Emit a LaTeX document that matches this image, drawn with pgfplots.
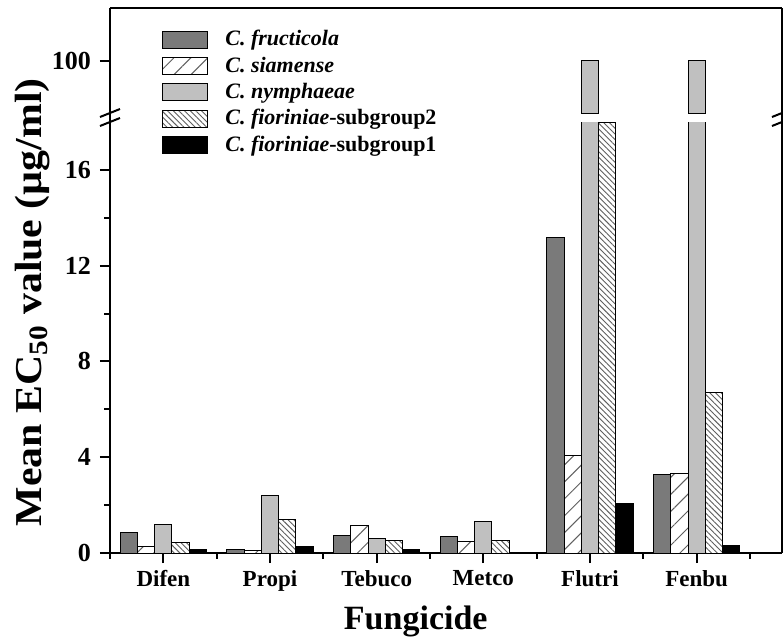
\documentclass[border=0pt]{standalone}
\usepackage{fontspec}
\setmainfont{Liberation Serif}
\usepackage{pgfplots}
\usepackage{pgfplotstable}
\pgfplotsset{compat=1.18}
\usetikzlibrary{patterns.meta}

\definecolor{cfruc}{RGB}{122,122,122}
\definecolor{cnym}{RGB}{192,192,192}
\definecolor{hatch}{RGB}{95,95,95}

\pgfplotstableread{
x fruc siam nym fiortwo fiorone
0 0.85 0.26 1.21 0.45 0.13
1 0.15 0.12 2.42 1.42 0.26
2 0.72 1.13 0.60 0.54 0.13
3 0.71 0.49 1.31 0.53 0
4 13.16 4.08 100 18 2.05
5 3.26 3.33 100 6.70 0.31
}\datatable

\pgfplotsset{
  common/.style={
    width=336pt, scale only axis,
    xmin=-0.5, xmax=5.8,
    axis y line*=box, ytick pos=left,
    axis line style={line width=1pt, black},
    tick align=outside, major tick length=5pt, minor tick length=2.8pt,
    every tick/.style={line width=1pt, black},
    /pgf/number format/assume math mode=true,
    yticklabel style={font=\bfseries\fontsize{13}{14}\selectfont, xshift=-1pt},
  },
  bb/.style={ybar, bar width=0.162, draw=black, line width=0.5pt},
  sfruc/.style={bb, bar shift=-0.324, fill=cfruc},
  ssiam/.style={bb, bar shift=-0.162, fill=white, postaction={pattern={Lines[angle=45,distance=6pt,line width=0.5pt]}, pattern color=hatch}},
  snym/.style={bb, bar shift=0, fill=cnym},
  sfior2/.style={bb, bar shift=0.162, fill=white, postaction={pattern={Lines[angle=-45,distance=2pt,line width=0.45pt]}, pattern color=hatch}},
  sfior1/.style={bb, bar shift=0.324, fill=black},
}

\begin{document}
\begin{tikzpicture}
\begin{axis}[common,
  height=215.5pt,
  ymin=0, ymax=18,
  axis x line*=bottom,
  xtick={0,...,5},
  xticklabels={Difen,Propi,Tebuco,Metco,Flutri,Fenbu},
  minor xtick={-0.5,0.5,...,5.5},
  ytick={0,4,8,12,16},
  minor ytick={2,6,10,14},
  xticklabel style={font=\bfseries\fontsize{11.5}{13}\selectfont},
  xlabel={Fungicide},
  ylabel={\scalebox{1.1}[1]{Mean EC\textsubscript{50} value (µg/ml)}},
  xlabel style={font=\bfseries\fontsize{17}{19}\selectfont, at={(axis description cs:0.455,-0.178)}, anchor=base},
  ylabel style={font=\bfseries\fontsize{19}{22}\selectfont, at={(axis description cs:-0.1146,0.582)}, anchor=center, rotate=0},
  legend image code/.code={\draw[#1] (0pt,-4.25pt) rectangle (22.5pt,4.25pt); \path (31pt,0pt);},
  legend cell align=left,
  legend style={draw=none, fill=none, inner sep=0pt,
    at={(axis description cs:0.0774,1.2135)}, anchor=north west,
    row sep=4.0pt,
    nodes={inner sep=0pt, font=\bfseries\fontsize{11}{12}\selectfont}},
]
\addplot[sfruc] table[x=x,y=fruc] {\datatable};
\addlegendentry{\textit{C. fructicola}}
\addplot[ssiam] table[x=x,y=siam] {\datatable};
\addlegendentry{\textit{C. siamense}}
\addplot[snym] table[x=x,y=nym] {\datatable};
\addlegendentry{\textit{C. nymphaeae}}
\addplot[sfior2] table[x=x,y=fiortwo] {\datatable};
\addlegendentry{\textit{C. fioriniae}-subgroup2}
\addplot[sfior1] table[x=x,y=fiorone] {\datatable};
\addlegendentry{\textit{C. fioriniae}-subgroup1}
\coordinate (LTL) at (rel axis cs:0,1);
\coordinate (LTR) at (rel axis cs:1,1);
\end{axis}
\begin{axis}[common,
  at={(0pt,220pt)}, anchor=south west,
  height=52.5pt,
  ymin=90, ymax=110,
  axis x line*=top,
  xtick=\empty,
  ytick={100},
]
\addplot[snym, restrict y to domain=80:200] table[x=x,y=nym] {\datatable};
\coordinate (UBL) at (rel axis cs:0,0);
\coordinate (UBR) at (rel axis cs:1,0);
\end{axis}
\draw[line width=1pt] (LTL) -- (UBL);
\draw[line width=1pt] (LTR) -- (UBR);
\foreach \p in {LTL,UBL,LTR,UBR}{
  \draw[line width=1pt] ([shift={(-5pt,-2pt)}]\p) -- ++(10pt,4pt);
}
\pgfresetboundingbox
\path (-55pt,-43pt) rectangle (336.5pt,276.5pt);
\end{tikzpicture}
\end{document}
